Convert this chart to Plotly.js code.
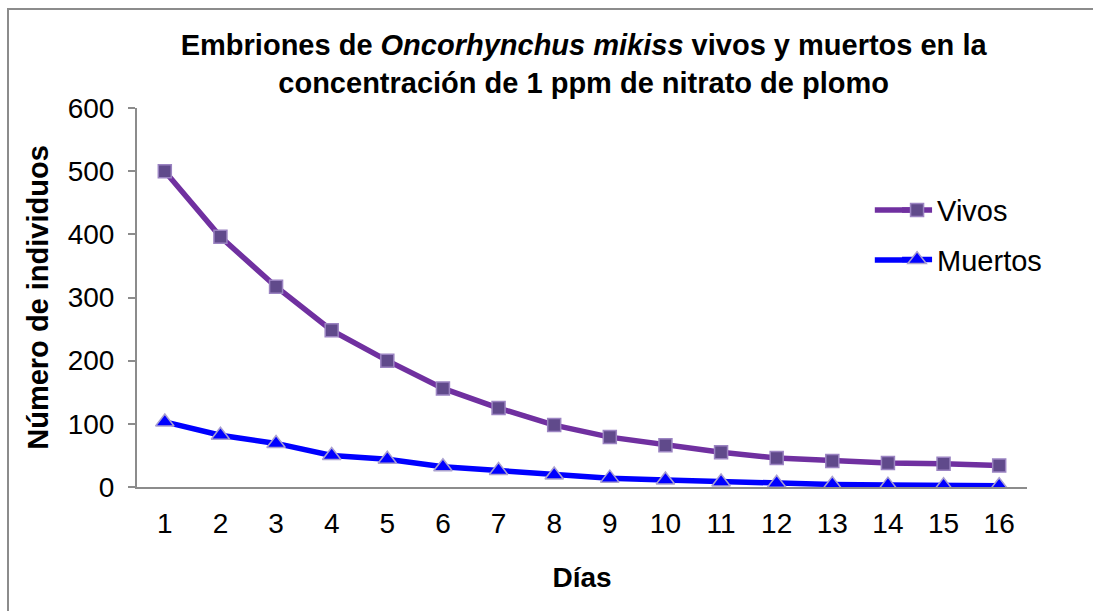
<!DOCTYPE html>
<html><head><meta charset="utf-8">
<script src="https://cdn.plot.ly/plotly-3.0.1.min.js"></script>
<style>
html,body{margin:0;padding:0;background:#fff;}
#frame{position:absolute;left:7px;top:8px;width:1100px;height:620px;border-left:2px solid #8c8c8c;border-top:2px solid #8c8c8c;box-sizing:border-box;}
#chart{position:absolute;left:0;top:0;width:1093px;height:611px;}
</style></head>
<body>
<div id="frame"></div>
<div id="chart"></div>
<script>
const dias = ["1","2","3","4","5","6","7","8","9","10","11","12","13","14","15","16"];
const vivos = [500,396,317,248,200,156,125,98,79,66,55,46,41,38,37,34];
const muertos = [103,82,69,50,44,32,26,19,14,11,8,6,4,3,2,2];

const traces = [
 {x: dias, y: vivos, name: "Vivos", type: "scatter", mode: "lines+markers", legendgroup: "a",
  line: {color: "#7030A0", width: 5.5},
  marker: {symbol: "square", size: 13, color: "#604A8B", line: {color: "#9b84c2", width: 1.5}}},
 {x: dias, y: muertos, name: "Muertos", type: "scatter", mode: "lines+markers", legendgroup: "b",
  line: {color: "#0000FF", width: 5.5},
  marker: {symbol: "triangle-up", size: 16, color: "#0000FF", line: {color: "#a9a0d0", width: 1.5}}}
];

const layout = {
 width: 1093, height: 611,
 margin: {l: 137, r: 66, t: 108, b: 124},
 paper_bgcolor: "rgba(0,0,0,0)", plot_bgcolor: "rgba(0,0,0,0)",
 font: {family: "Liberation Sans, Arial, sans-serif", color: "#000", size: 28},
 title: {text: "<b>Embriones de <i>Oncorhynchus mikiss</i> vivos y muertos en la<br>concentración de 1 ppm de nitrato de plomo</b>",
  font: {size: 29, family: "Liberation Sans, Arial, sans-serif"}, x: 0.534, xanchor: "center",
  y: 0.91, yanchor: "middle", yref: "container"},
 xaxis: {type: "category", range: [-0.5, 15.5], showline: true, linecolor: "#8c8c8c", linewidth: 2,
  ticks: "", showgrid: false, zeroline: false, tickfont: {size: 28}, ticklabelstandoff: 10,
  title: {text: "<b>Días</b>", font: {size: 28}, standoff: 30}},
 yaxis: {range: [0, 600], dtick: 100, showline: true, linecolor: "#8c8c8c", linewidth: 2,
  ticks: "outside", ticklen: 7, tickcolor: "#8c8c8c", tickwidth: 2, showgrid: false, zeroline: false,
  tickfont: {size: 28}, ticklabelstandoff: 8,
  title: {text: "<b>Número de individuos</b>", font: {size: 29}, standoff: 11}},
 legend: {x: 0.854, y: 0.798, xanchor: "left", yanchor: "top", bgcolor: "rgba(0,0,0,0)",
  font: {size: 29}, tracegroupgap: 9, traceorder: "grouped"},
 shapes: [
  {type: "line", xref: "paper", yref: "paper", x0: 0.829, x1: 0.872, y0: 0.731, y1: 0.731,
   line: {color: "#7030A0", width: 5.5}, layer: "below"},
  {type: "line", xref: "paper", yref: "paper", x0: 0.829, x1: 0.872, y0: 0.599, y1: 0.599,
   line: {color: "#0000FF", width: 5.5}, layer: "below"}
 ],
 showlegend: true
};
Plotly.newPlot("chart", traces, layout, {displayModeBar: false, staticPlot: true});
</script>
</body></html>
